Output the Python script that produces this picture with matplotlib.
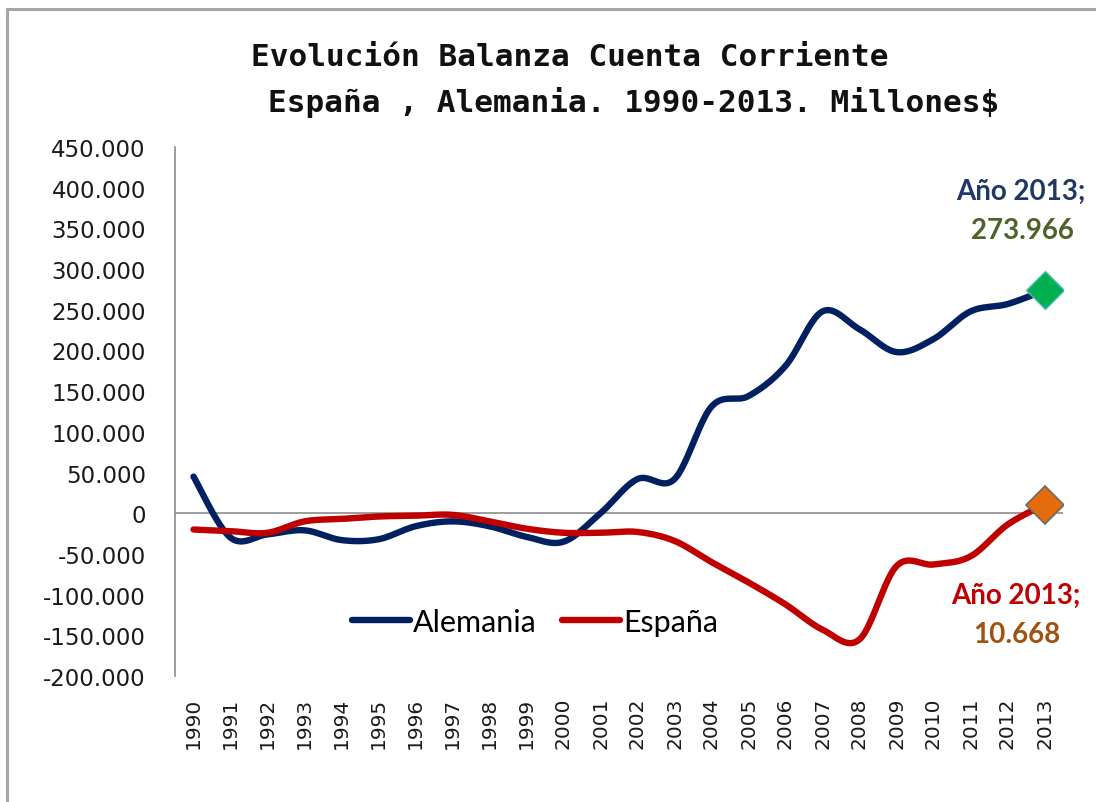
import numpy as np
import matplotlib
matplotlib.use("Agg")
import matplotlib.pyplot as plt
from matplotlib.lines import Line2D

years = list(range(1990, 2014))
alemania = [45, -30, -26, -21, -33, -32, -16, -10, -16, -29, -35, 0,
            42, 42, 131, 144, 181, 248, 226, 198, 214, 248, 257, 273.966]
espana = [-20, -22, -24, -10, -7, -4, -3, -2, -10, -19, -24, -24,
          -23, -34, -60, -85, -112, -143, -155, -65, -63, -53, -14, 10.668]
ytick_vals = list(range(-200, 451, 50))
ytick_labels = ["-200.000", "-150.000", "-100.000", "-50.000", "0", "50.000", "100.000",
                "150.000", "200.000", "250.000", "300.000", "350.000", "400.000", "450.000"]
title1 = "Evolución Balanza Cuenta Corriente"
title2 = "España , Alemania. 1990-2013. Millones$"


def smooth(xs, ys, n=24):
    """Excel-like smoothed line (Catmull-Rom via cubic Bezier)."""
    P = np.column_stack([xs, ys]).astype(float)
    out = []
    m = len(P)
    t = np.linspace(0, 1, n)[:, None]
    for i in range(m - 1):
        p0 = P[max(i - 1, 0)]
        p1 = P[i]
        p2 = P[i + 1]
        p3 = P[min(i + 2, m - 1)]
        c1 = p1 + (p2 - p0) / 6.0
        c2 = p2 - (p3 - p1) / 6.0
        seg = ((1 - t) ** 3) * p1 + 3 * ((1 - t) ** 2) * t * c1 + 3 * (1 - t) * t ** 2 * c2 + t ** 3 * p2
        out.append(seg if i == 0 else seg[1:])
    out = np.vstack(out)
    return out[:, 0], out[:, 1]


W, H = 1096, 803
fig = plt.figure(figsize=(W / 100, H / 100), dpi=100)
fig.patch.set_facecolor("white")

# outer chart frame
fig.add_artist(Line2D([7 / W, 7 / W], [0, 1 - 10 / H], color="#a6a6a6", lw=2.2, transform=fig.transFigure))
fig.add_artist(Line2D([7 / W, 1], [1 - 10 / H, 1 - 10 / H], color="#a6a6a6", lw=2.2, transform=fig.transFigure))

ax = fig.add_axes([175 / W, 1 - 677 / H, (1063 - 175) / W, (677 - 148) / H])
x = np.arange(len(years))
ax.set_xlim(-0.5, len(years) - 0.5)
ax.set_ylim(-200, 450)

for s in ["top", "right", "bottom"]:
    ax.spines[s].set_visible(False)
ax.spines["left"].set_color("#8c8c8c")
ax.spines["left"].set_linewidth(1.2)
ax.axhline(0, color="#8c8c8c", lw=1.2, zorder=1)

xa, ya = smooth(x, alemania)
xe, ye = smooth(x, espana)
ax.plot(xa, ya, color="#002060", lw=4.6, solid_capstyle="round", zorder=3, label="Alemania")
ax.plot(xe, ye, color="#C00000", lw=4.6, solid_capstyle="round", zorder=3, label="España")

ax.plot([x[-1]], [alemania[-1]], marker="D", ms=19, color="#00B050", mec="#4BC0B0", mew=1, zorder=5)
ax.plot([x[-1]], [espana[-1]], marker="D", ms=19, color="#E46C0A", mec="#6b6b6b", mew=1.2, zorder=5)

ax.set_yticks(ytick_vals)
ax.set_yticklabels(ytick_labels, fontsize=16.5, family="DejaVu Sans", color="#1a1a1a")
ax.set_xticks(x)
ax.set_xticklabels([str(y) for y in years], rotation=90, fontsize=14.5, family="DejaVu Sans",
                   color="#1a1a1a", va="top")
ax.tick_params(axis="both", length=0)
ax.tick_params(axis="x", pad=15)
ax.tick_params(axis="y", pad=21)

# annotations
ax.annotate("Año 2013;", xy=(1021 / W, 1 - 192 / H), xycoords="figure fraction", ha="center", va="center",
            fontsize=20, fontweight="bold", family="Lato", color="#1F3864")
ax.annotate("273.966", xy=(1022 / W, 1 - 231 / H), xycoords="figure fraction", ha="center", va="center",
            fontsize=20, fontweight="bold", family="Lato", color="#4F6228")
ax.annotate("Año 2013;", xy=(1016 / W, 1 - 596 / H), xycoords="figure fraction", ha="center", va="center",
            fontsize=20, fontweight="bold", family="Lato", color="#C00000")
ax.annotate("10.668", xy=(1017 / W, 1 - 635 / H), xycoords="figure fraction", ha="center", va="center",
            fontsize=20, fontweight="bold", family="Lato", color="#A0520F")

# titles
fig.text(570 / W, 1 - 58 / H, title1, ha="center", va="center", fontsize=22.4, fontweight="bold",
         family="DejaVu Sans Mono", color="#111111")
fig.text(634 / W, 1 - 102 / H, title2, ha="center", va="center", fontsize=22.4, fontweight="bold",
         family="DejaVu Sans Mono", color="#111111")

leg = ax.legend(loc="center", bbox_to_anchor=((535 - 175) / 888, (677 - 623) / 529), ncol=2,
                frameon=False, prop={"family": "Lato", "size": 22}, handlelength=1.9,
                handletextpad=0.12, columnspacing=0.8)

fig.savefig("out.png", dpi=100)
